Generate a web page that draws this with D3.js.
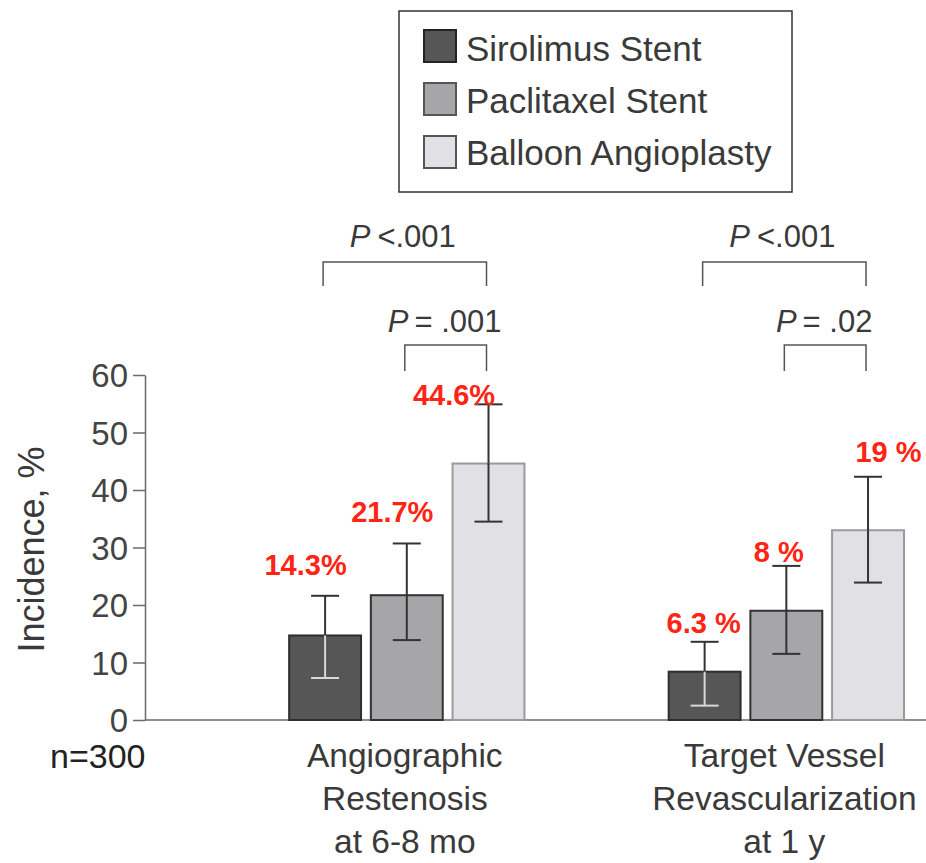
<!DOCTYPE html>
<html>
<head>
<meta charset="utf-8">
<script src="https://cdn.jsdelivr.net/npm/d3@7"></script>
<style>
  html, body { margin: 0; padding: 0; background: #fff; }
  svg { display: block; }
  text { font-family: "Liberation Sans", Arial, Helvetica, sans-serif; }
</style>
</head>
<body>
<svg id="chart" width="926" height="863"></svg>
<script>
// ---------- data ----------
const groups = ["Angiographic Restenosis at 6-8 mo", "Target Vessel Revascularization at 1 y"];
const groupLines = [["Angiographic", "Restenosis", "at 6-8 mo"], ["Target Vessel", "Revascularization", "at 1 y"]];
const series = ["Sirolimus Stent", "Paclitaxel Stent", "Balloon Angioplasty"];
const restenosisValues = [14.7, 21.7, 44.6];
const revascValues = [8.4, 19.0, 33.0];
const restenosisLow = [7.3, 13.9, 34.5];
const restenosisHigh = [21.6, 30.7, 54.9];
const revascLow = [2.5, 11.5, 23.9];
const revascHigh = [13.6, 26.8, 42.3];
const restenosisLabels = ["14.3%", "21.7%", "44.6%"];
const revascLabels = ["6.3 %", "8 %", "19 %"];
const yTicks = [0, 10, 20, 30, 40, 50, 60];
const pValuesOuter = ["<.001", "<.001"];
const pValuesInner = ["= .001", "= .02"];
const sampleLabel = "n=300";
const yTitle = "Incidence, %";

// ---------- layout / style ----------
const colors = ["#565656", "#a6a6a9", "#e1e1e5"];
const strokes = ["#2e2e2e", "#333333", "#9a9a9a"];
const legendStrokes = ["#222", "#555", "#555"];
const labelY = [[25.2, 34.4, 54.8], [15.1, 27.5, 44.9]];   // label baseline (in axis units)
const labelDx = [[-19.5, -14.5, -34.5], [-1, -7.5, 20.5]];
const textColor = "#3a3a3a";

const svg = d3.select("#chart");
const y = d3.scaleLinear().domain([0, 60]).range([720, 375]);
const x0 = d3.scaleBand().domain(groups).range([145, 920])
  .paddingInner(0.38).paddingOuter(0.211).align(0.9);
const x1 = d3.scaleBand().domain(series).range([0, x0.bandwidth()]).paddingInner(0.12);

const data = groups.map((g, gi) => series.map((s, si) => ({
  g, s, gi, si,
  v: gi === 0 ? restenosisValues[si] : revascValues[si],
  lo: gi === 0 ? restenosisLow[si] : revascLow[si],
  hi: gi === 0 ? restenosisHigh[si] : revascHigh[si],
  label: gi === 0 ? restenosisLabels[si] : revascLabels[si]
})));
const flat = data.flat();
const cx = d => x0(d.g) + x1(d.s) + x1.bandwidth() / 2;

// ---------- axes ----------
const yAxis = d3.axisLeft(y).tickValues(yTicks).tickSize(12).tickSizeOuter(0).tickPadding(5);
const ya = svg.append("g").attr("transform", "translate(145,0)").call(yAxis);
ya.select(".domain").attr("stroke", "#6a6a6a").attr("stroke-width", 1.5);
ya.selectAll(".tick line").attr("stroke", "#6a6a6a").attr("stroke-width", 1.5);
ya.selectAll(".tick text").attr("font-size", 33).attr("fill", "#444")
  .attr("font-family", '"Liberation Sans", Arial, sans-serif').attr("dy", "0.36em");

svg.append("line").attr("x1", 145).attr("x2", 926).attr("y1", y(0)).attr("y2", y(0))
  .attr("stroke", "#6a6a6a").attr("stroke-width", 1.5);

svg.append("text").attr("transform", `translate(44,${(y(0) + y(60)) / 2 + 2}) rotate(-90)`)
  .attr("text-anchor", "middle").attr("font-size", 36).attr("fill", textColor).text(yTitle);

svg.append("text").attr("x", 50).attr("y", 768).attr("font-size", 34).attr("fill", "#222").text(sampleLabel);

// ---------- bars ----------
svg.append("g").selectAll("rect").data(flat).join("rect")
  .attr("x", d => x0(d.g) + x1(d.s))
  .attr("y", d => y(d.v))
  .attr("width", x1.bandwidth())
  .attr("height", d => y(0) - y(d.v))
  .attr("fill", d => colors[d.si])
  .attr("stroke", d => strokes[d.si])
  .attr("stroke-width", 2);

// ---------- error bars ----------
const eg = svg.append("g");
flat.forEach(d => {
  const c = cx(d);
  const inner = d.si === 0 ? "#d8d8d8" : "#333";
  eg.append("line").attr("x1", c).attr("x2", c).attr("y1", y(d.hi)).attr("y2", y(Math.max(d.v, d.lo)))
    .attr("stroke", "#333").attr("stroke-width", 2);
  eg.append("line").attr("x1", c).attr("x2", c).attr("y1", y(d.v)).attr("y2", y(d.lo))
    .attr("stroke", inner).attr("stroke-width", 2);
  eg.append("line").attr("x1", c - 14).attr("x2", c + 14).attr("y1", y(d.hi)).attr("y2", y(d.hi))
    .attr("stroke", "#333").attr("stroke-width", 2);
  eg.append("line").attr("x1", c - 14).attr("x2", c + 14).attr("y1", y(d.lo)).attr("y2", y(d.lo))
    .attr("stroke", d.lo < d.v ? inner : "#333").attr("stroke-width", 2);
});

// ---------- value labels ----------
svg.append("g").selectAll("text").data(flat).join("text")
  .attr("x", d => cx(d) + labelDx[d.gi][d.si])
  .attr("y", d => y(labelY[d.gi][d.si]))
  .attr("text-anchor", "middle").attr("font-size", 29).attr("font-weight", "bold")
  .attr("fill", "#ff2414").text(d => d.label);

// ---------- category labels ----------
groups.forEach((g, gi) => {
  const t = svg.append("text").attr("text-anchor", "middle").attr("font-size", 33.5).attr("fill", textColor);
  groupLines[gi].forEach((ln, li) => {
    t.append("tspan").attr("x", x0(g) + x0.bandwidth() / 2 - 2).attr("y", 767 + li * 43).text(ln);
  });
});

// ---------- significance brackets ----------
const bg = svg.append("g");
groups.forEach((g, gi) => {
  const c0 = x0(g) + x1(series[0]) + x1.bandwidth() / 2;
  const c1 = x0(g) + x1(series[1]) + x1.bandwidth() / 2;
  const c2 = x0(g) + x1(series[2]) + x1.bandwidth() / 2;
  const bracket = (a, b, top, bottom) => {
    bg.append("path")
      .attr("d", `M${a - 2},${y(bottom)}V${y(top)}H${b - 2}V${y(bottom)}`)
      .attr("fill", "none").attr("stroke", "#555").attr("stroke-width", 1.5);
  };
  bracket(c0, c2, 79.65, 75.5);
  bracket(c1, c2, 65.2, 60.7);
  const p1 = bg.append("text").attr("x", (c0 + c2) / 2 - 4).attr("y", y(82.3))
    .attr("text-anchor", "middle").attr("font-size", 31).attr("fill", textColor);
  p1.append("tspan").attr("font-style", "italic").text("P");
  p1.append("tspan").attr("dx", 7).text(pValuesOuter[gi]);
  const p2 = bg.append("text").attr("x", (c1 + c2) / 2 - 3).attr("y", y(67.5))
    .attr("text-anchor", "middle").attr("font-size", 31).attr("fill", textColor);
  p2.append("tspan").attr("font-style", "italic").text("P");
  p2.append("tspan").attr("dx", 6).text(pValuesInner[gi]);
});

// ---------- legend ----------
const lg = svg.append("g");
lg.append("rect").attr("x", 399).attr("y", 11).attr("width", 393).attr("height", 181)
  .attr("fill", "#fff").attr("stroke", "#333").attr("stroke-width", 1.5);
series.forEach((s, i) => {
  lg.append("rect").attr("x", 424).attr("y", 30 + i * 53).attr("width", 32).attr("height", 32)
    .attr("fill", colors[i]).attr("stroke", legendStrokes[i]).attr("stroke-width", 2);
  lg.append("text").attr("x", 466).attr("y", 61 + i * 52).attr("font-size", 35)
    .attr("fill", textColor).text(s);
});
</script>
</body>
</html>
